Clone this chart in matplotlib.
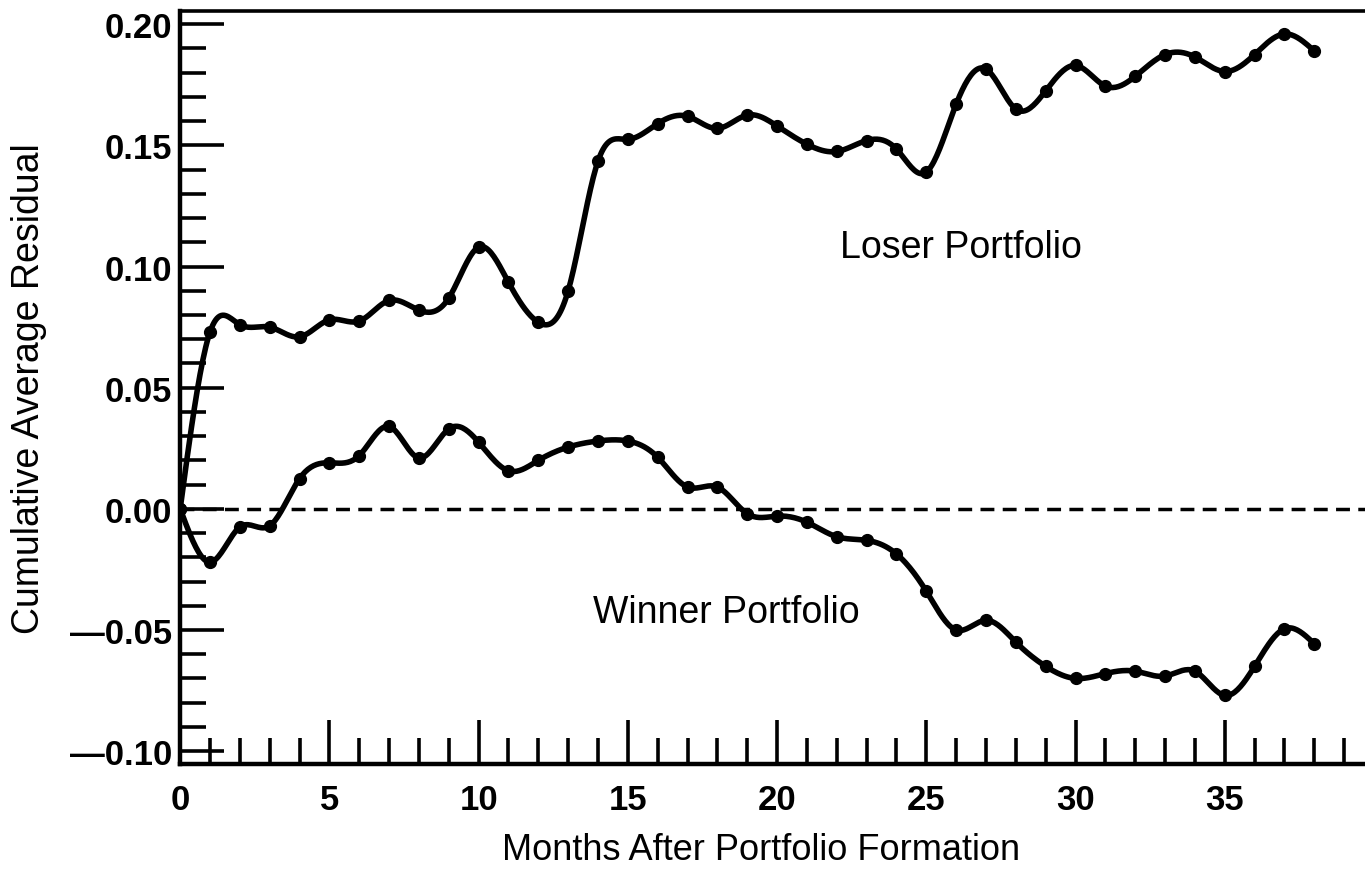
import numpy as np
import matplotlib
matplotlib.use("Agg")
import matplotlib.pyplot as plt
from matplotlib.ticker import MultipleLocator, FuncFormatter

# ================= DATOS =================
MESES = list(range(0, 39))

CAR_PERDEDOR = [0.000, 0.073, 0.076, 0.075, 0.071, 0.078, 0.0775, 0.086, 0.082, 0.087,
                0.108, 0.0935, 0.077, 0.090, 0.1435, 0.1525, 0.159, 0.162, 0.157, 0.1625,
                0.158, 0.1505, 0.1475, 0.152, 0.1485, 0.139, 0.167, 0.1815, 0.165, 0.1725,
                0.183, 0.1745, 0.1785, 0.1875, 0.1865, 0.1805, 0.1875, 0.196, 0.189]

CAR_GANADOR = [0.000, -0.022, -0.0075, -0.007, 0.0125, 0.019, 0.022, 0.034, 0.021, 0.033,
               0.0275, 0.0157, 0.020, 0.0255, 0.028, 0.028, 0.0213, 0.009, 0.009, -0.002,
               -0.003, -0.0055, -0.0115, -0.013, -0.0186, -0.034, -0.050, -0.046, -0.055, -0.065,
               -0.070, -0.068, -0.067, -0.069, -0.067, -0.077, -0.065, -0.0495, -0.0557]

ETIQUETA_X = "Months After Portfolio Formation"
ETIQUETA_Y = "Cumulative Average Residual"
TEXTO_PERDEDOR = "Loser Portfolio"
TEXTO_GANADOR = "Winner Portfolio"

FUENTE = "Liberation Sans"
# =========================================


def spline_natural(x, y, xs):
    # spline cubico natural, solo para suavizar el trazo entre puntos
    x = np.asarray(x, float)
    y = np.asarray(y, float)
    n = len(x)
    h = np.diff(x)
    A = np.zeros((n, n))
    r = np.zeros(n)
    A[0, 0] = A[-1, -1] = 1.0
    for i in range(1, n - 1):
        A[i, i - 1] = h[i - 1]
        A[i, i] = 2 * (h[i - 1] + h[i])
        A[i, i + 1] = h[i]
        r[i] = 3 * ((y[i + 1] - y[i]) / h[i] - (y[i] - y[i - 1]) / h[i - 1])
    c = np.linalg.solve(A, r)
    b = (y[1:] - y[:-1]) / h - h * (2 * c[:-1] + c[1:]) / 3
    d = (c[1:] - c[:-1]) / (3 * h)
    idx = np.clip(np.searchsorted(x, xs) - 1, 0, n - 2)
    dx = xs - x[idx]
    return y[idx] + b[idx] * dx + c[idx] * dx ** 2 + d[idx] * dx ** 3


def formato_y(v, pos):
    if abs(v) < 1e-9:
        return "0.00"
    if v < 0:
        return "\u2014" + f"{abs(v):.2f}"
    return f"{v:.2f}"


def crear_grafica():
    plt.rcParams['font.family'] = [FUENTE, 'DejaVu Sans']

    fig = plt.figure(figsize=(13.65, 8.7), dpi=100)
    ax = fig.add_axes([0.132, 0.121, 0.868, 0.865])

    xs = np.linspace(MESES[0], MESES[-1], 800)
    for serie in (CAR_PERDEDOR, CAR_GANADOR):
        ax.plot(xs, spline_natural(MESES, serie, xs), color='black', linewidth=4.0,
                solid_capstyle='round', zorder=4)
        ax.plot(MESES, serie, linestyle='none', marker='o', markersize=8.5,
                color='black', zorder=5)

    ax.axhline(0, color='black', linewidth=2.5, dashes=(4.0, 2.4), zorder=3)

    # posiciones de los textos en pixeles (origen abajo a la izquierda)
    ax.text(840, 870 - 248, TEXTO_PERDEDOR, transform=None, fontsize=27,
            ha='left', va='center')
    ax.text(593, 870 - 613, TEXTO_GANADOR, transform=None, fontsize=27,
            ha='left', va='center')

    ax.set_xlim(0, 39.7)
    ax.set_ylim(-0.1052, 0.2054)

    ax.xaxis.set_major_locator(MultipleLocator(5))
    ax.xaxis.set_minor_locator(MultipleLocator(1))
    ax.yaxis.set_major_locator(MultipleLocator(0.05))
    ax.yaxis.set_minor_locator(MultipleLocator(0.01))
    ax.yaxis.set_major_formatter(FuncFormatter(formato_y))
    ax.xaxis.set_major_formatter(FuncFormatter(lambda v, p: f"{v:.0f}" if v < 39 else ""))

    ax.tick_params(which='major', direction='in', length=32, width=2.6,
                   labelsize=25, color='black')
    ax.tick_params(which='minor', direction='in', length=19, width=2.6, color='black')
    ax.tick_params(axis='y', which='both', left=True, right=False, pad=6)
    ax.tick_params(axis='x', which='both', bottom=True, top=False, pad=14)
    for lbl in ax.get_xticklabels() + ax.get_yticklabels():
        lbl.set_fontweight('bold')

    ax.spines['right'].set_visible(False)
    ax.spines['left'].set_linewidth(3.2)
    ax.spines['bottom'].set_linewidth(3.2)
    ax.spines['top'].set_linewidth(2.6)

    ax.set_xlabel(ETIQUETA_X, fontsize=26)
    ax.set_ylabel(ETIQUETA_Y, fontsize=27)
    ax.xaxis.label.set_va('center')
    ax.yaxis.label.set_va('center')
    ax.xaxis.set_label_coords(0.49, -0.114)
    ax.yaxis.set_label_coords(-0.1275, 0.5)

    fig.savefig("out.png", dpi=100)
    plt.close(fig)


if __name__ == "__main__":
    crear_grafica()
